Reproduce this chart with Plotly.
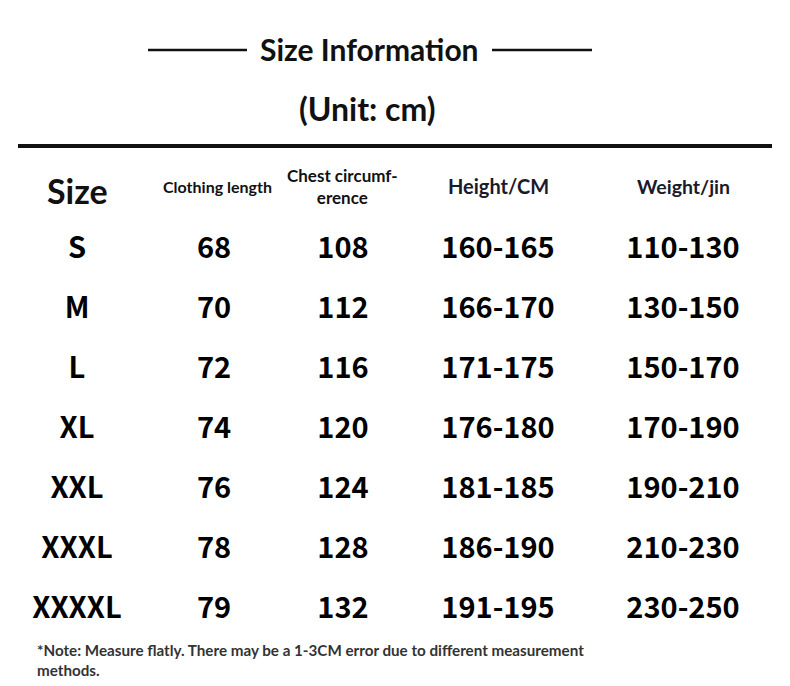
import plotly.graph_objects as go

# ---- table data ----
sizes = ["S", "M", "L", "XL", "XXL", "XXXL", "XXXXL"]
clothing_length = ["68", "70", "72", "74", "76", "78", "79"]
chest = ["108", "112", "116", "120", "124", "128", "132"]
height_cm = ["160-165", "166-170", "171-175", "176-180", "181-185", "186-190", "191-195"]
weight_jin = ["110-130", "130-150", "150-170", "170-190", "190-210", "210-230", "230-250"]

headers = ["Size", "Clothing length", "Chest circumf-<br>erence", "Height/CM", "Weight/jin"]
title = "Size Information"
unit = "(Unit: cm)"
note = "*Note: Measure flatly. There may be a 1-3CM error due to different measurement<br>methods."

W, H = 790, 686
OFF = 8  # page body margin, compensated in the axis ranges
col_x = [77, 214, 343, 498, 683]
hdr_x = [77, 217, 342, 498, 683]
row_y = [251 + 60 * i for i in range(len(sizes))]

BODY_FONT = "Noto Sans CJK SC, Lato, sans-serif"
LATO = "Lato, Noto Sans, sans-serif"

fig = go.Figure()

columns = [sizes, clothing_length, chest, height_cm, weight_jin]
for cx, vals in zip(col_x, columns):
    fig.add_trace(go.Scatter(
        x=[cx] * len(vals), y=row_y, mode="text", text=vals,
        textposition="middle center",
        textfont=dict(family=BODY_FONT, size=29, color="#000000", weight="bold"),
        hoverinfo="skip", showlegend=False,
    ))

# header row
hdr_sizes = [34, 16, 17, 20, 19.5]
hdr_y = [190, 186, 186, 186, 186]
hdr_col = ["#111111", "#111111", "#111111", "#1a1a2a", "#1a1a2a"]
for cx, cy, txt, fs, c in zip(hdr_x, hdr_y, headers, hdr_sizes, hdr_col):
    fig.add_annotation(x=cx, y=cy, text=txt, showarrow=False,
                       font=dict(family=LATO, size=fs, color=c, weight="bold"),
                       xanchor="center", yanchor="middle")

# title + unit
fig.add_annotation(x=369, y=49, text=title, showarrow=False,
                   font=dict(family=LATO, size=30, color="#111111", weight="bold"),
                   xanchor="center", yanchor="middle")
fig.add_annotation(x=367, y=108, text=unit, showarrow=False,
                   font=dict(family=LATO, size=32, color="#111111", weight="bold"),
                   xanchor="center", yanchor="middle")

# note
fig.add_annotation(x=35, y=660, text=note, showarrow=False, align="left",
                   font=dict(family=LATO, size=15.2, color="#333333", weight="bold"),
                   xanchor="left", yanchor="middle")

# rules
fig.add_shape(type="line", x0=148, x1=247, y0=50, y1=50, line=dict(color="#111111", width=2.5))
fig.add_shape(type="line", x0=492, x1=592, y0=50, y1=50, line=dict(color="#111111", width=2.5))
fig.add_shape(type="line", x0=18, x1=772, y0=146, y1=146, line=dict(color="#111111", width=4))

fig.update_xaxes(range=[OFF, W + OFF], visible=False, fixedrange=True)
fig.update_yaxes(range=[H + OFF, OFF], visible=False, fixedrange=True)
fig.update_layout(width=W, height=H, margin=dict(l=0, r=0, t=0, b=0),
                  paper_bgcolor="white", plot_bgcolor="white")

fig.write_html("out.html", config={"displayModeBar": False})
